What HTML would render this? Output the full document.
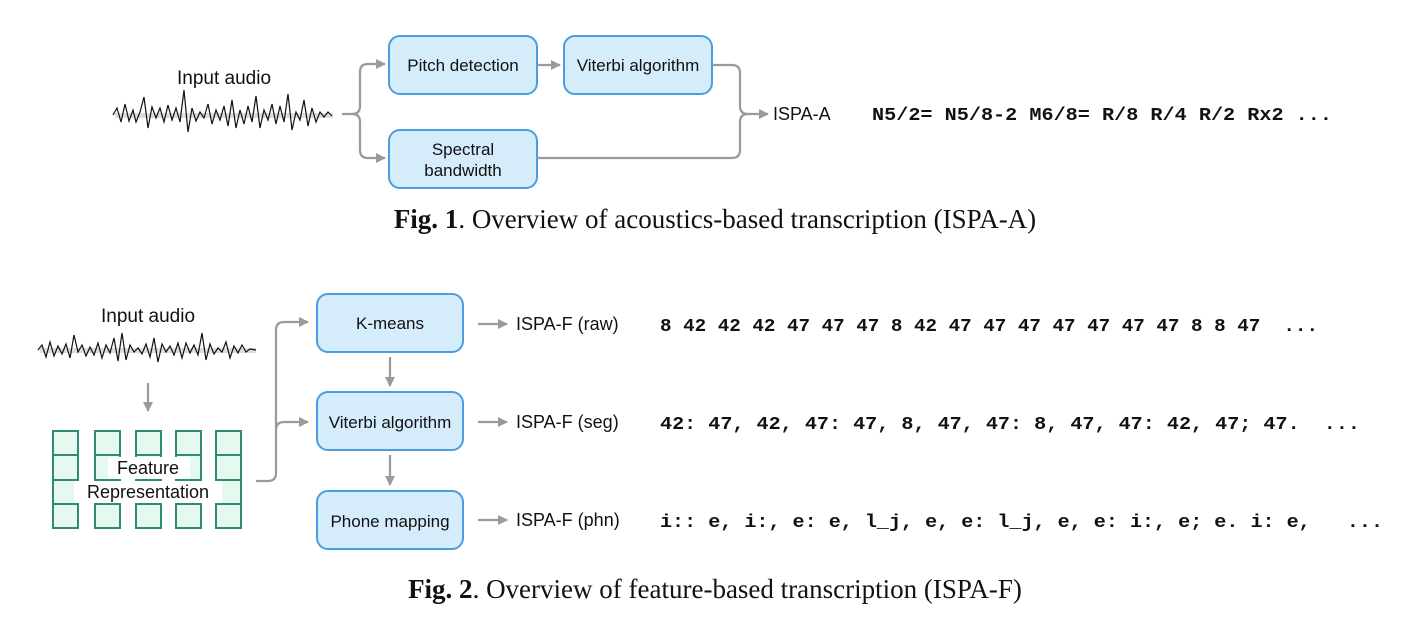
<!DOCTYPE html>
<html><head><meta charset="utf-8"><style>
html,body{margin:0;padding:0;background:#fff;}
svg{display:block;}
.s{font-family:"Liberation Sans",sans-serif;fill:#111;}
.m{font-family:"Liberation Mono",monospace;font-weight:bold;fill:#111;}
.c{font-family:"Liberation Serif",serif;fill:#111;}
.box{fill:#d5ecfb;stroke:#4a9de0;stroke-width:2;}
.ln{fill:none;stroke:#9a9a9a;stroke-width:2.2;}
.ah{fill:#9a9a9a;}
.g{fill:#e6f9ef;stroke:#2e8b75;stroke-width:2;}
.w{fill:none;stroke:#111;stroke-width:1.2;}
</style></head><body>
<svg width="1424" height="636" viewBox="0 0 1424 636" xmlns="http://www.w3.org/2000/svg">
<defs><marker id="a" markerWidth="10" markerHeight="10" refX="9" refY="5" orient="auto" markerUnits="userSpaceOnUse"><path d="M0,0 L10,5 L0,10 z" class="ah"/></marker></defs>
<!-- Fig 1 -->
<text x="224" y="84" class="s" font-size="19" text-anchor="middle">Input audio</text>
<rect x="115" y="113" width="218" height="5" fill="#ddd"/>
<polyline class="w" points="113,115 117,108 121,122 125,104 129,121 133,110 136,122 140,112 144,97 148,128 152,107 156,118 160,108 164,122 168,105 172,120 176,108 180,122 184,90 188,132 192,108 196,121 200,112 204,118 208,104 212,124 216,110 220,120 224,106 228,126 232,100 236,128 240,110 244,124 248,106 252,122 256,96 260,128 264,110 268,120 272,104 276,124 280,106 284,122 288,94 292,130 296,112 300,120 304,100 308,126 312,108 316,122 320,112 324,117 328,112 332,116"/>
<path class="ln" d="M342,114 H352 Q360,114 360,106 V72 Q360,64 368,64 H385" marker-end="url(#a)"/>
<path class="ln" d="M352,114 Q360,114 360,122 V150 Q360,158 368,158 H385" marker-end="url(#a)"/>
<rect class="box" x="389" y="36" width="148" height="58" rx="11"/>
<text x="463" y="71" class="s" font-size="17" text-anchor="middle">Pitch detection</text>
<path class="ln" d="M537,65 H560" marker-end="url(#a)"/>
<rect class="box" x="564" y="36" width="148" height="58" rx="11"/>
<text x="638" y="71" class="s" font-size="17" text-anchor="middle">Viterbi algorithm</text>
<rect class="box" x="389" y="130" width="148" height="58" rx="11"/>
<text x="463" y="155" class="s" font-size="17" text-anchor="middle">Spectral</text>
<text x="463" y="176" class="s" font-size="17" text-anchor="middle">bandwidth</text>
<path class="ln" d="M712,65 H732 Q740,65 740,73 V106 Q740,114 748,114 H768" marker-end="url(#a)"/>
<path class="ln" d="M537,158 H732 Q740,158 740,150 V122 Q740,114 748,114"/>
<text x="773" y="120" class="s" font-size="18">ISPA-A</text>
<text x="872" y="120" class="m" font-size="18" textLength="460" lengthAdjust="spacingAndGlyphs">N5/2= N5/8-2 M6/8= R/8 R/4 R/2 Rx2 ...</text>
<text x="715" y="228" class="c" font-size="27" text-anchor="middle"><tspan font-weight="bold">Fig. 1</tspan>. Overview of acoustics-based transcription (ISPA-A)</text>
<!-- Fig 2 -->
<text x="148" y="322" class="s" font-size="19" text-anchor="middle">Input audio</text>
<rect x="40" y="348" width="216" height="5" fill="#ddd"/>
<polyline class="w" points="38,350 42,345 46,357 50,342 54,356 58,346 62,354 66,344 70,358 74,335 78,352 82,345 86,356 90,347 94,355 98,343 102,358 106,345 110,353 114,338 118,361 122,333 126,360 130,345 134,352 138,348 142,354 146,344 150,357 154,338 158,362 162,344 166,352 170,346 174,355 178,343 182,358 186,343 190,353 194,345 198,355 202,333 206,360 210,344 214,354 218,348 222,352 226,342 230,358 234,346 238,353 242,345 246,352 250,349 256,350"/>
<path class="ln" d="M148,383 V411" marker-end="url(#a)"/>
<g>
<rect class="g" x="53" y="431" width="25" height="24"/><rect class="g" x="53" y="455" width="25" height="25"/><rect class="g" x="53" y="480" width="25" height="24"/><rect class="g" x="53" y="504" width="25" height="24"/>
<rect class="g" x="95" y="431" width="25" height="24"/><rect class="g" x="95" y="455" width="25" height="25"/><rect class="g" x="95" y="480" width="25" height="24"/><rect class="g" x="95" y="504" width="25" height="24"/>
<rect class="g" x="136" y="431" width="25" height="24"/><rect class="g" x="136" y="455" width="25" height="25"/><rect class="g" x="136" y="480" width="25" height="24"/><rect class="g" x="136" y="504" width="25" height="24"/>
<rect class="g" x="176" y="431" width="25" height="24"/><rect class="g" x="176" y="455" width="25" height="25"/><rect class="g" x="176" y="480" width="25" height="24"/><rect class="g" x="176" y="504" width="25" height="24"/>
<rect class="g" x="216" y="431" width="25" height="24"/><rect class="g" x="216" y="455" width="25" height="25"/><rect class="g" x="216" y="480" width="25" height="24"/><rect class="g" x="216" y="504" width="25" height="24"/>
</g>
<rect x="108" y="457" width="82" height="22" fill="#fff"/>
<rect x="74" y="481" width="148" height="22" fill="#fff"/>
<text x="148" y="474" class="s" font-size="18" text-anchor="middle">Feature</text>
<text x="148" y="498" class="s" font-size="18" text-anchor="middle">Representation</text>
<path class="ln" d="M256,481 H268 Q276,481 276,473 V330 Q276,322 284,322 H308" marker-end="url(#a)"/>
<path class="ln" d="M276,430 Q276,422 284,422 H308" marker-end="url(#a)"/>
<rect class="box" x="317" y="294" width="146" height="58" rx="11"/>
<text x="390" y="329" class="s" font-size="17" text-anchor="middle">K-means</text>
<path class="ln" d="M390,357 V386" marker-end="url(#a)"/>
<rect class="box" x="317" y="392" width="146" height="58" rx="11"/>
<text x="390" y="428" class="s" font-size="17" text-anchor="middle">Viterbi algorithm</text>
<path class="ln" d="M390,455 V485" marker-end="url(#a)"/>
<rect class="box" x="317" y="491" width="146" height="58" rx="11"/>
<text x="390" y="527" class="s" font-size="17" text-anchor="middle">Phone mapping</text>
<path class="ln" d="M478,324 H507" marker-end="url(#a)"/>
<path class="ln" d="M478,422 H507" marker-end="url(#a)"/>
<path class="ln" d="M478,520 H507" marker-end="url(#a)"/>
<text x="516" y="330" class="s" font-size="18">ISPA-F (raw)</text>
<text x="516" y="428" class="s" font-size="18">ISPA-F (seg)</text>
<text x="516" y="526" class="s" font-size="18">ISPA-F (phn)</text>
<text x="660" y="331" class="m" font-size="18" textLength="658" lengthAdjust="spacingAndGlyphs" xml:space="preserve">8 42 42 42 47 47 47 8 42 47 47 47 47 47 47 47 8 8 47  ...</text>
<text x="660" y="429" class="m" font-size="18" textLength="700" lengthAdjust="spacingAndGlyphs" xml:space="preserve">42: 47, 42, 47: 47, 8, 47, 47: 8, 47, 47: 42, 47; 47.  ...</text>
<text x="660" y="527" class="m" font-size="18" textLength="723" lengthAdjust="spacingAndGlyphs" xml:space="preserve">i:: e, i:, e: e, l_j, e, e: l_j, e, e: i:, e; e. i: e,   ...</text>
<text x="715" y="598" class="c" font-size="27" text-anchor="middle"><tspan font-weight="bold">Fig. 2</tspan>. Overview of feature-based transcription (ISPA-F)</text>
</svg>
</body></html>
